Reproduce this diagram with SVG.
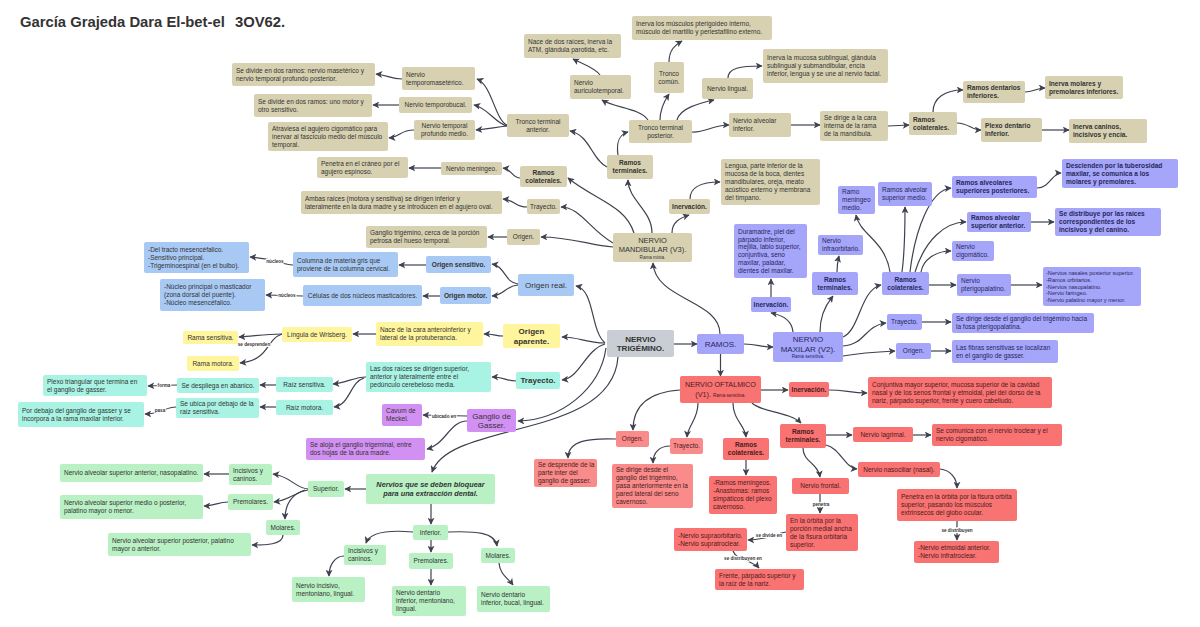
<svg xmlns="http://www.w3.org/2000/svg" width="1200" height="627" viewBox="0 0 1200 627">
<style>
.tan{fill:#d7d1b1}.blu{fill:#a9c9f5}.yel{fill:#fff59d}.cya{fill:#a9f3e5}.pur{fill:#d290f3}.per{fill:#a5a5fa}.red{fill:#f97373}.rdl{fill:#f98b8b}.grn{fill:#b9f0c4}.gry{fill:#c8ced4}
text{font-family:"Liberation Sans",Arial,sans-serif;fill:#333}
.t{font-size:6.5px}.b{font-size:6.6px;font-weight:bold}.s{font-size:5.6px}.m{font-size:8px}.mb{font-size:8px;font-weight:bold}.x{font-size:4.6px}
.c{text-anchor:middle}
.pt{fill:#28285a}.rt{fill:#4a1c1c}
.e{fill:none;stroke:#3d424e;stroke-width:1.2;marker-end:url(#ah)}
.lb{font-size:4.6px;font-weight:bold;fill:#333;stroke:#fff;stroke-width:2;paint-order:stroke;text-anchor:middle}
</style>
<defs>
<marker id="ah" viewBox="0 0 10 10" refX="9" refY="5" markerWidth="7" markerHeight="7" markerUnits="userSpaceOnUse" orient="auto"><path d="M0,0 L10,5 L0,10 L2.5,5 z" fill="#3d424e"/></marker>
</defs>
<rect width="1200" height="627" fill="#fff"/>
<text x="20" y="27" font-size="14.8" font-weight="bold" fill="#111">García Grajeda Dara El-bet-el</text>
<text x="235" y="27" font-size="14.8" font-weight="bold" fill="#111">3OV62.</text>

<g id="connectors">
<path class="e" d="M674,344 L697,344"/>
<path class="e" d="M605,343 C590,330 595,290 576,286"/>
<path class="e" d="M605,343 C585,343 580,337 562,337"/>
<path class="e" d="M605,344 C585,350 580,378 562,380"/>
<path class="e" d="M606,348 C600,390 560,420 518,421"/>
<path class="e" d="M618,357 C612,440 450,420 432,472"/>
<path class="e" d="M720,334 C720,300 655,300 653,263"/>
<path class="e" d="M744,344 C758,344 760,347 773,347"/>
<path class="e" d="M720.5,354 L720.5,376"/>
<path class="e" d="M672,233 C672,222 680,218 689,215"/>
<path class="e" d="M652,233 C652,210 628,200 628,180"/>
<path class="e" d="M634,233 C625,205 595,200 568,178"/>
<path class="e" d="M613,243 C590,230 580,207 561,207"/>
<path class="e" d="M613,247 C590,245 570,237 541,237"/>
<path class="e" d="M690,199 C690,188 700,182 720,182"/>
<path class="e" d="M618,155 C616,142 620,134 628,132"/>
<path class="e" d="M607,167 C592,160 590,135 570,131"/>
<path class="e" d="M648,120 C640,108 615,108 602,100"/>
<path class="e" d="M660,120 C660,108 665,100 669,94"/>
<path class="e" d="M677,120 C680,108 700,103 714,100"/>
<path class="e" d="M692,132 C705,133 712,125 729,125"/>
<path class="e" d="M669,62 C669,50 675,45 682,41"/>
<path class="e" d="M728,78 C728,68 740,66 762,66"/>
<path class="e" d="M600,75 C595,68 585,65 573,59"/>
<path class="e" d="M791,125 L820,125"/>
<path class="e" d="M888,126 L909,125"/>
<path class="e" d="M933,112 C933,98 945,90 963,90"/>
<path class="e" d="M957,123 C968,123 972,130 981,130"/>
<path class="e" d="M1025,92 C1033,92 1037,88 1045,88"/>
<path class="e" d="M1042,130 L1069,130"/>
<path class="e" d="M507,125 C495,120 492,85 477,79"/>
<path class="e" d="M507,126 C495,123 488,108 474,105"/>
<path class="e" d="M507,126 C495,127 490,129 476,130"/>
<path class="e" d="M402,79 C390,79 388,75 376,74"/>
<path class="e" d="M399,105 L373,105"/>
<path class="e" d="M414,130 C400,130 400,137 389,138"/>
<path class="e" d="M520,178 C512,178 512,169 503,168"/>
<path class="e" d="M441,168 L409,168"/>
<path class="e" d="M527,207 C515,207 515,200 503,199"/>
<path class="e" d="M507,237 L488,237"/>
<path class="e" d="M518,284 C505,283 505,266 492,264"/>
<path class="e" d="M518,285 C505,286 505,295 492,296"/>
<path class="e" d="M426,265 L399,265"/>
<path class="e" d="M293,265 C280,264 270,258 250,257"/>
<path class="e" d="M440,296 L423,296"/>
<path class="e" d="M303,296 L266,295"/>
<path class="e" d="M503,336 C495,336 495,334 484,334"/>
<path class="e" d="M376,334 L353,334"/>
<path class="e" d="M282,334 C265,334 255,336 239,337"/>
<path class="e" d="M282,334 C265,340 270,360 240,363"/>
<path class="e" d="M516,381 C505,381 505,377 492,377"/>
<path class="e" d="M366,377 C355,377 345,383 333,384"/>
<path class="e" d="M364,378 C350,382 350,405 334,407"/>
<path class="e" d="M276,385 L260,385"/>
<path class="e" d="M177,385 L148,386"/>
<path class="e" d="M276,407 L260,407"/>
<path class="e" d="M176,407 C165,407 162,414 145,414"/>
<path class="e" d="M467,416 L423,415"/>
<path class="e" d="M467,421 C450,421 445,445 427,449"/>
<path class="e" d="M366,489 L345,489"/>
<path class="e" d="M431,504 L431,524"/>
<path class="e" d="M308,489 C295,488 290,476 273,474"/>
<path class="e" d="M308,490 C295,492 290,500 274,502"/>
<path class="e" d="M305,490 C290,495 285,505 285,519"/>
<path class="e" d="M229,474 L204,474"/>
<path class="e" d="M228,502 C218,502 215,506 204,506"/>
<path class="e" d="M283,535 C283,545 265,545 252,545"/>
<path class="e" d="M413,532 C390,530 370,532 366,543"/>
<path class="e" d="M431,540 L431,552"/>
<path class="e" d="M448,532 C475,531 495,532 497,546"/>
<path class="e" d="M344,556 C335,556 329,565 329,576"/>
<path class="e" d="M431,569 L431,585"/>
<path class="e" d="M499,563 C500,575 508,578 513,585"/>
<path class="e" d="M793,332 C792,320 782,315 771,313"/>
<path class="e" d="M820,332 C820,310 830,300 833,296"/>
<path class="e" d="M843,337 C860,330 860,290 881,285"/>
<path class="e" d="M843,346 C865,345 865,325 886,323"/>
<path class="e" d="M843,356 C860,353 875,352 895,351"/>
<path class="e" d="M771,297 L771,279"/>
<path class="e" d="M837,272 C837,265 838,260 839,256"/>
<path class="e" d="M890,272 C885,240 860,235 856,215"/>
<path class="e" d="M902,272 C905,250 905,225 905,207"/>
<path class="e" d="M910,272 C915,230 930,190 951,188"/>
<path class="e" d="M915,272 C925,240 945,222 966,222"/>
<path class="e" d="M921,272 C923,260 935,251 951,251"/>
<path class="e" d="M929,285 L956,285"/>
<path class="e" d="M1037,188 C1050,188 1052,173 1061,173"/>
<path class="e" d="M1031,222 L1054,222"/>
<path class="e" d="M1011,285 L1042,285"/>
<path class="e" d="M922,322 L951,322"/>
<path class="e" d="M931,351 L951,351"/>
<path class="e" d="M761,390 L788,390"/>
<path class="e" d="M829,390 C845,390 850,393 867,393"/>
<path class="e" d="M680,390 C650,392 633,405 633,430"/>
<path class="e" d="M698,403 C698,420 688,425 687,437"/>
<path class="e" d="M733,403 C733,420 745,425 746,437"/>
<path class="e" d="M752,403 C760,412 790,412 801,423"/>
<path class="e" d="M616,439 C590,438 568,440 568,458"/>
<path class="e" d="M670,446 C660,446 653,452 653,463"/>
<path class="e" d="M746,460 L746,475"/>
<path class="e" d="M826,435 L852,435"/>
<path class="e" d="M826,445 C840,448 845,468 857,469"/>
<path class="e" d="M803,448 C803,462 818,463 820,477"/>
<path class="e" d="M913,435 L931,435"/>
<path class="e" d="M940,469 C950,470 957,478 957,488"/>
<path class="e" d="M957,521 L957,540"/>
<path class="e" d="M820,494 L820,513"/>
<path class="e" d="M786,532 C775,534 765,540 748,540"/>
<path class="e" d="M733,551 C736,560 752,560 759,568"/>
</g>
<g id="connector-labels">
<text class="lb" x="275" y="263">núcleos</text>
<text class="lb" x="287" y="297">núcleos</text>
<text class="lb" x="254" y="346">se desprenden</text>
<text class="lb" x="164" y="387">forma</text>
<text class="lb" x="160" y="412">pasa</text>
<text class="lb" x="444" y="418">ubicado en</text>
<text class="lb" x="957" y="532">se distribuyen</text>
<text class="lb" x="821" y="506">penetra</text>
<text class="lb" x="769" y="537">se divide en</text>
<text class="lb" x="743" y="560">se distribuyen en</text>
</g>

<g id="n_se_divide_maset"><rect class="tan" x="232" y="63" width="143" height="23" rx="2"/><text class="t" x="236" y="72.8">Se divide en dos ramos: nervio masetérico y<tspan x="236" dy="8">nervio temporal profundo posterior.</tspan></text></g>
<g id="n_temporomaset"><rect class="tan" x="402" y="67" width="73" height="23" rx="2"/><text class="t" x="406" y="76.8">Nervio<tspan x="406" dy="8">temporomasetérico.</tspan></text></g>
<g id="n_se_divide_motor"><rect class="tan" x="254" y="94" width="118" height="23" rx="2"/><text class="t" x="258" y="103.8">Se divide en dos ramos: uno motor y<tspan x="258" dy="8">otro sensitivo.</tspan></text></g>
<g id="n_temporobucal"><rect class="tan" x="399" y="97" width="73" height="16" rx="2"/><text class="t c" x="435.5" y="107.3">Nervio temporobucal.</text></g>
<g id="n_atraviesa"><rect class="tan" x="268" y="122" width="120" height="29" rx="2"/><text class="t" x="272" y="130.8">Atraviesa el agujero cigomático para<tspan x="272" dy="8">inervar al fascículo medio del músculo</tspan><tspan x="272" dy="8">temporal.</tspan></text></g>
<g id="n_temp_prof_medio"><rect class="tan" x="414" y="120" width="61" height="20" rx="2"/><text class="t c" x="444.5" y="128.3">Nervio temporal<tspan x="444.5" dy="8">profundo medio.</tspan></text></g>
<g id="n_tronco_ant"><rect class="tan" x="507" y="114" width="62" height="23" rx="2"/><text class="t c" x="538" y="123.8">Tronco terminal<tspan x="538" dy="8">anterior.</tspan></text></g>
<g id="n_nace_dos"><rect class="tan" x="524" y="34" width="97" height="24" rx="2"/><text class="t" x="528" y="44.3">Nace de dos raíces, inerva la<tspan x="528" dy="8">ATM, glándula parotida, etc.</tspan></text></g>
<g id="n_auriculo"><rect class="tan" x="570" y="75" width="61" height="24" rx="2"/><text class="t" x="574" y="85.3">Nervio<tspan x="574" dy="8">auriculotemporal.</tspan></text></g>
<g id="n_inerva_pterig"><rect class="tan" x="632" y="16" width="140" height="24" rx="2"/><text class="t" x="636" y="26.3">Inerva los músculos pterigoideo interno,<tspan x="636" dy="8">músculo del martillo y periestafilino externo.</tspan></text></g>
<g id="n_tronco_comun"><rect class="tan" x="654" y="62" width="30" height="31" rx="2"/><text class="t c" x="669" y="75.8">Tronco<tspan x="669" dy="8">común.</tspan></text></g>
<g id="n_lingual"><rect class="tan" x="702" y="78" width="51" height="21" rx="2"/><text class="t c" x="727.5" y="90.8">Nervio lingual.</text></g>
<g id="n_inerva_mucosa"><rect class="tan" x="763" y="49" width="125" height="34" rx="2"/><text class="t" x="767" y="60.3">Inerva la mucosa sublingual, glándula<tspan x="767" dy="8">sublingual y submandibular, encía</tspan><tspan x="767" dy="8">inferior, lengua y se une al nervio facial.</tspan></text></g>
<g id="n_tronco_post"><rect class="tan" x="629" y="120" width="63" height="23" rx="2"/><text class="t c" x="660.5" y="129.8">Tronco terminal<tspan x="660.5" dy="8">posterior.</tspan></text></g>
<g id="n_alveolar_inf"><rect class="tan" x="729" y="113" width="62" height="24" rx="2"/><text class="t" x="733" y="123.3">Nervio alveolar<tspan x="733" dy="8">inferior.</tspan></text></g>
<g id="n_se_dirige_cara"><rect class="tan" x="820" y="111" width="68" height="30" rx="2"/><text class="t" x="824" y="120.3">Se dirige a la cara<tspan x="824" dy="8">interna de la rama</tspan><tspan x="824" dy="8">de la mandíbula.</tspan></text></g>
<g id="n_ramos_col_m2"><rect class="tan" x="909" y="112" width="48" height="23" rx="2"/><text class="b" x="913" y="121.8">Ramos<tspan x="913" dy="8">colaterales.</tspan></text></g>
<g id="n_dentarios_inf"><rect class="tan" x="963" y="81" width="62" height="22" rx="2"/><text class="b" x="967" y="90.3">Ramos dentarios<tspan x="967" dy="8">inferiores.</tspan></text></g>
<g id="n_inerva_molares"><rect class="tan" x="1045" y="76" width="78" height="23" rx="2"/><text class="b" x="1049" y="85.8">Inerva molares y<tspan x="1049" dy="8">premolares inferiores.</tspan></text></g>
<g id="n_plexo_dent"><rect class="tan" x="981" y="118" width="61" height="24" rx="2"/><text class="b" x="985" y="128.3">Plexo dentario<tspan x="985" dy="8">inferior.</tspan></text></g>
<g id="n_inerva_caninos"><rect class="tan" x="1069" y="119" width="78" height="24" rx="2"/><text class="b" x="1073" y="129.3">Inerva caninos,<tspan x="1073" dy="8">incisivos y encía.</tspan></text></g>
<g id="n_ramos_term_m"><rect class="tan" x="607" y="155" width="46" height="24" rx="2"/><text class="b c" x="630" y="165.3">Ramos<tspan x="630" dy="8">terminales.</tspan></text></g>
<g id="n_inervacion_m"><rect class="tan" x="669" y="199" width="41" height="15" rx="2"/><text class="b c" x="689.5" y="208.8">Inervación.</text></g>
<g id="n_lengua"><rect class="tan" x="721" y="159" width="99" height="46" rx="2"/><text class="t" x="725" y="168.3">Lengua, parte inferior de la<tspan x="725" dy="8">mucosa de la boca, dientes</tspan><tspan x="725" dy="8">mandibulares, oreja, meato</tspan><tspan x="725" dy="8">acústico externo y membrana</tspan><tspan x="725" dy="8">del tímpano.</tspan></text></g>
<g id="n_meningeo"><rect class="tan" x="441" y="162" width="61" height="13" rx="2"/><text class="t c" x="471.5" y="170.8">Nervio meningeo.</text></g>
<g id="n_penetra_craneo"><rect class="tan" x="317" y="157" width="91" height="21" rx="2"/><text class="t" x="321" y="165.8">Penetra en el cráneo por el<tspan x="321" dy="8">agujero espinoso.</tspan></text></g>
<g id="n_ramos_col_m"><rect class="tan" x="520" y="166" width="47" height="21" rx="2"/><text class="b c" x="543.5" y="174.8">Ramos<tspan x="543.5" dy="8">colaterales.</tspan></text></g>
<g id="n_trayecto_m"><rect class="tan" x="527" y="199" width="33" height="15" rx="2"/><text class="t c" x="543.5" y="208.8">Trayecto.</text></g>
<g id="n_ambas"><rect class="tan" x="301" y="191" width="201" height="23" rx="2"/><text class="t" x="305" y="200.8">Ambas raíces (motora y sensitiva) se dirigen inferior y<tspan x="305" dy="8">lateralmente en la dura madre y se introducen en el agujero oval.</tspan></text></g>
<g id="n_origen_m"><rect class="tan" x="507" y="229" width="33" height="16" rx="2"/><text class="t c" x="523.5" y="239.3">Origen.</text></g>
<g id="n_ganglio_trig"><rect class="tan" x="366" y="226" width="121" height="22" rx="2"/><text class="t" x="370" y="235.3">Ganglio trigémino, cerca de la porción<tspan x="370" dy="8">petrosa del hueso temporal.</tspan></text></g>
<g id="n_mandibular"><rect class="tan" x="613" y="233" width="79" height="29" rx="2"/><text class="c" x="652.5" y="242.7" font-size="7.5">NERVIO<tspan x="652.5" dy="9">MANDIBULAR (V3).</tspan></text><text class="x c" x="652.5" y="258.6">Rama mixta.</text></g>

<g id="n_origen_real"><rect class="blu" x="518" y="274" width="56" height="22" rx="2"/><text class="m c" x="546" y="287.8">Origen real.</text></g>
<g id="n_origen_sens"><rect class="blu" x="426" y="256" width="65" height="17" rx="2"/><text class="b c" x="458.5" y="266.8">Origen sensitivo.</text></g>
<g id="n_columna"><rect class="blu" x="293" y="252" width="105" height="25" rx="2"/><text class="t" x="297" y="262.8">Columna de materia gris que<tspan x="297" dy="8">proviene de la columna cervical.</tspan></text></g>
<g id="n_del_tracto"><rect class="blu" x="144" y="242" width="105" height="31" rx="2"/><text class="t" x="148" y="251.8">-Del tracto mesencéfalico.<tspan x="148" dy="8">-Sensitivo principal.</tspan><tspan x="148" dy="8">-Trigeminoespinal (en el bulbo).</tspan></text></g>
<g id="n_origen_motor"><rect class="blu" x="440" y="287" width="51" height="17" rx="2"/><text class="b c" x="465.5" y="297.8">Origen motor.</text></g>
<g id="n_celulas"><rect class="blu" x="303" y="285" width="119" height="21" rx="2"/><text class="t c" x="362.5" y="297.8">Células de dos núcleos masticadores.</text></g>
<g id="n_nucleo_princ"><rect class="blu" x="160" y="279" width="105" height="32" rx="2"/><text class="t" x="164" y="289.3">-Núcleo principal o masticador<tspan x="164" dy="8">(zona dorsal del puente).</tspan><tspan x="164" dy="8">-Núcleo mesencéfalico.</tspan></text></g>

<g id="n_origen_ap"><rect class="yel" x="503" y="324" width="57" height="24" rx="2"/><text class="mb c" x="531.5" y="334.1">Origen<tspan x="531.5" dy="9.5">aparente.</tspan></text></g>
<g id="n_nace_cara"><rect class="yel" x="376" y="322" width="107" height="24" rx="2"/><text class="t" x="380" y="332.3">Nace de la cara anteroinferior y<tspan x="380" dy="8">lateral de la protuberancia.</tspan></text></g>
<g id="n_lingula"><rect class="yel" x="282" y="327" width="70" height="15" rx="2"/><text class="t c" x="317" y="336.8">Língula de Wrisberg.</text></g>
<g id="n_rama_sens"><rect class="yel" x="183" y="331" width="55" height="13" rx="2"/><text class="t c" x="210.5" y="339.8">Rama sensitiva.</text></g>
<g id="n_rama_motora"><rect class="yel" x="187" y="356" width="52" height="15" rx="2"/><text class="t c" x="213" y="365.8">Rama motora.</text></g>

<g id="n_trayecto_c"><rect class="cya" x="516" y="372" width="44" height="17" rx="2"/><text class="mb c" x="538" y="383.3">Trayecto.</text></g>
<g id="n_las_dos"><rect class="cya" x="366" y="362" width="125" height="30" rx="2"/><text class="t" x="370" y="371.3">Las dos raíces se dirigen superior,<tspan x="370" dy="8">anterior y lateralmente entre el</tspan><tspan x="370" dy="8">pedúnculo cerebeloso media.</tspan></text></g>
<g id="n_raiz_sens"><rect class="cya" x="276" y="377" width="57" height="15" rx="2"/><text class="t c" x="304.5" y="386.8">Raíz sensitiva.</text></g>
<g id="n_raiz_motora"><rect class="cya" x="276" y="400" width="57" height="15" rx="2"/><text class="t c" x="304.5" y="409.8">Raíz motora.</text></g>
<g id="n_despliega"><rect class="cya" x="177" y="378" width="82" height="15" rx="2"/><text class="t c" x="218" y="387.8">Se despliega en abanico.</text></g>
<g id="n_plexo_tri"><rect class="cya" x="43" y="375" width="104" height="21" rx="2"/><text class="t" x="47" y="383.8">Plexo triangular que termina en<tspan x="47" dy="8">el ganglio de gasser.</tspan></text></g>
<g id="n_se_ubica"><rect class="cya" x="176" y="398" width="83" height="20" rx="2"/><text class="t" x="180" y="406.3">Se ubica por debajo de la<tspan x="180" dy="8">raíz sensitiva.</tspan></text></g>
<g id="n_por_debajo"><rect class="cya" x="18" y="402" width="126" height="25" rx="2"/><text class="t" x="22" y="412.8">Por debajo del ganglio de gasser y se<tspan x="22" dy="8">incorpora a la rama maxilar inferior.</tspan></text></g>

<g id="n_ganglio_g"><rect class="pur" x="467" y="409" width="49" height="23" rx="2"/><text class="m c" x="491.5" y="418.6">Ganglio de<tspan x="491.5" dy="9.5">Gasser.</tspan></text></g>
<g id="n_cavum"><rect class="pur" x="382" y="404" width="40" height="22" rx="2"/><text class="t" x="386" y="413.3">Cavum de<tspan x="386" dy="8">Meckel.</tspan></text></g>
<g id="n_se_aloja"><rect class="pur" x="306" y="438" width="119" height="22" rx="2"/><text class="t" x="310" y="447.3">Se aloja el ganglio trigeminal, entre<tspan x="310" dy="8">dos hojas de la dura madre.</tspan></text></g>

<g id="n_trigemino"><rect class="gry" x="607" y="330" width="67" height="27" rx="2"/><text class="mb c" x="640.5" y="341.6">NERVIO<tspan x="640.5" dy="9.5">TRIGÉMINO.</tspan></text></g>

<g id="n_ramos"><rect class="per" x="697" y="334" width="47" height="20" rx="2"/><text class="m c pt" x="720.5" y="346.8">RAMOS.</text></g>
<g id="n_maxilar"><rect class="per" x="773" y="332" width="70" height="30" rx="2"/><text class="m c pt" x="808" y="341.8">NERVIO<tspan x="808" dy="9.7">MAXILAR (V2).</tspan></text><text class="x c pt" x="808" y="358.3">Rama sensitiva.</text></g>
<g id="n_inervacion_x"><rect class="per" x="751" y="297" width="40" height="15" rx="2"/><text class="b c pt" x="771" y="306.8">Inervación.</text></g>
<g id="n_duramadre"><rect class="per" x="734" y="224" width="73" height="54" rx="2"/><text class="t pt" x="738" y="233.8">Duramadre, piel del<tspan x="738" dy="7.8">párpado inferior,</tspan><tspan x="738" dy="7.8">mejilla, labio superior,</tspan><tspan x="738" dy="7.8">conjuntiva, seno</tspan><tspan x="738" dy="7.8">maxilar, paladar,</tspan><tspan x="738" dy="7.8">dientes del maxilar.</tspan></text></g>
<g id="n_ramos_term_x"><rect class="per" x="812" y="272" width="46" height="23" rx="2"/><text class="b c pt" x="835" y="281.8">Ramos<tspan x="835" dy="8">terminales.</tspan></text></g>
<g id="n_infraorb"><rect class="per" x="818" y="235" width="45" height="20" rx="2"/><text class="t pt" x="822" y="243.3">Nervio<tspan x="822" dy="8">infraorbitario.</tspan></text></g>
<g id="n_ramo_mening"><rect class="per" x="838" y="186" width="37" height="28" rx="2"/><text class="t pt" x="842" y="194.3">Ramo<tspan x="842" dy="8">meningeo</tspan><tspan x="842" dy="8">medio.</tspan></text></g>
<g id="n_alv_sup_medio"><rect class="per" x="878" y="182" width="54" height="24" rx="2"/><text class="t pt" x="882" y="192.3">Ramos alveolar<tspan x="882" dy="8">superior medio.</tspan></text></g>
<g id="n_alv_sup_post"><rect class="per" x="952" y="176" width="85" height="22" rx="2"/><text class="b pt" x="956" y="185.3">Ramos alveolares<tspan x="956" dy="8">superiores posteriores.</tspan></text></g>
<g id="n_descienden"><rect class="per" x="1062" y="159" width="116" height="29" rx="2"/><text class="b pt" x="1066" y="167.8">Descienden por la tuberosidad<tspan x="1066" dy="8">maxilar, se comunica a los</tspan><tspan x="1066" dy="8">molares y premolares.</tspan></text></g>
<g id="n_alv_sup_ant"><rect class="per" x="967" y="212" width="64" height="20" rx="2"/><text class="b pt" x="971" y="220.3">Ramos alveolar<tspan x="971" dy="8">superior anterior.</tspan></text></g>
<g id="n_se_distribuye"><rect class="per" x="1055" y="208" width="106" height="28" rx="2"/><text class="b pt" x="1059" y="216.3">Se distribuye por las raíces<tspan x="1059" dy="8">correspondientes de los</tspan><tspan x="1059" dy="8">incisivos y del canino.</tspan></text></g>
<g id="n_cigomatico"><rect class="per" x="952" y="241" width="42" height="20" rx="2"/><text class="t pt" x="956" y="249.3">Nervio<tspan x="956" dy="8">cigomático.</tspan></text></g>
<g id="n_ramos_col_x"><rect class="per" x="882" y="272" width="47" height="23" rx="2"/><text class="b c pt" x="905.5" y="281.8">Ramos<tspan x="905.5" dy="8">colaterales.</tspan></text></g>
<g id="n_pterigo"><rect class="per" x="957" y="274" width="54" height="22" rx="2"/><text class="t pt" x="961" y="283.3">Nervio<tspan x="961" dy="8">pterigopalatino.</tspan></text></g>
<g id="n_nasales"><rect class="per" x="1043" y="267" width="98" height="39" rx="2"/><text class="s pt" x="1046" y="274.9">-Nervios nasales posterior superior.<tspan x="1046" dy="6.8">-Ramos orbitarios.</tspan><tspan x="1046" dy="6.8">-Nervios nasopalatino.</tspan><tspan x="1046" dy="6.8">-Nervio faringeo.</tspan><tspan x="1046" dy="6.8">-Nervio palatino mayor y menor.</tspan></text></g>
<g id="n_trayecto_x"><rect class="per" x="887" y="314" width="35" height="16" rx="2"/><text class="t c pt" x="904.5" y="324.3">Trayecto.</text></g>
<g id="n_se_dirige_fosa"><rect class="per" x="952" y="313" width="142" height="20" rx="2"/><text class="t pt" x="956" y="321.3">Se dirige desde el ganglio del trigémino hacia<tspan x="956" dy="8">la fosa pterigopalatina.</tspan></text></g>
<g id="n_origen_x"><rect class="per" x="896" y="343" width="35" height="16" rx="2"/><text class="t c pt" x="913.5" y="353.3">Origen.</text></g>
<g id="n_fibras"><rect class="per" x="952" y="340" width="106" height="23" rx="2"/><text class="t pt" x="956" y="349.8">Las fibras sensitivas se localizan<tspan x="956" dy="8">en el ganglio de gasser.</tspan></text></g>

<g id="n_oftalmico"><rect class="red" x="680" y="376" width="81" height="27" rx="2"/><text class="c rt" x="720.5" y="387" font-size="7.2">NERVIO OFTALMICO</text><text class="c rt" x="720.5" y="396.5" font-size="7.2">(V1). <tspan font-size="4.6">Rama sensitiva.</tspan></text></g>
<g id="n_inervacion_o"><rect class="red" x="789" y="382" width="40" height="15" rx="2"/><text class="b c rt" x="809" y="391.8">Inervación.</text></g>
<g id="n_conjuntiva"><rect class="red" x="868" y="377" width="184" height="31" rx="2"/><text class="t rt" x="872" y="386.8">Conjuntiva mayor superior, mucosa superior de la cavidad<tspan x="872" dy="8">nasal y de los senos frontal y etmoidal, piel del dorso de la</tspan><tspan x="872" dy="8">nariz, párpado superior, frente y cuero cabelludo.</tspan></text></g>
<g id="n_origen_o"><rect class="rdl" x="616" y="431" width="33" height="16" rx="2"/><text class="t c rt" x="632.5" y="441.3">Origen.</text></g>
<g id="n_se_desprende"><rect class="rdl" x="534" y="459" width="63" height="28" rx="2"/><text class="t rt" x="538" y="467.3">Se desprende de la<tspan x="538" dy="8">parte inter del</tspan><tspan x="538" dy="8">ganglio de gasser.</tspan></text></g>
<g id="n_trayecto_o"><rect class="rdl" x="670" y="438" width="33" height="16" rx="2"/><text class="t c rt" x="686.5" y="448.3">Trayecto.</text></g>
<g id="n_se_dirige_seno"><rect class="rdl" x="612" y="464" width="81" height="44" rx="2"/><text class="t rt" x="616" y="472.3">Se dirige desde el<tspan x="616" dy="8">ganglio del trigémino,</tspan><tspan x="616" dy="8">pasa anteriormente en la</tspan><tspan x="616" dy="8">pared lateral del seno</tspan><tspan x="616" dy="8">cavernoso.</tspan></text></g>
<g id="n_ramos_col_o"><rect class="red" x="723" y="438" width="46" height="22" rx="2"/><text class="b c rt" x="746" y="447.3">Ramos<tspan x="746" dy="8">colaterales.</tspan></text></g>
<g id="n_ramos_mening"><rect class="red" x="709" y="476" width="68" height="38" rx="2"/><text class="t rt" x="713" y="485.3">-Ramos meningeos.<tspan x="713" dy="8">-Anastomas: ramos</tspan><tspan x="713" dy="8">simpáticos del plexo</tspan><tspan x="713" dy="8">cavernoso.</tspan></text></g>
<g id="n_ramos_term_o"><rect class="red" x="780" y="424" width="46" height="24" rx="2"/><text class="b c rt" x="803" y="434.3">Ramos<tspan x="803" dy="8">terminales.</tspan></text></g>
<g id="n_lagrimal"><rect class="red" x="853" y="427" width="60" height="15" rx="2"/><text class="t c rt" x="883" y="436.8">Nervio lagrimal.</text></g>
<g id="n_comunica"><rect class="red" x="932" y="424" width="130" height="22" rx="2"/><text class="t rt" x="936" y="433.3">Se comunica con el nervio troclear y el<tspan x="936" dy="8">nervio cigomático.</tspan></text></g>
<g id="n_nasociliar"><rect class="red" x="858" y="462" width="82" height="15" rx="2"/><text class="t c rt" x="899" y="471.8">Nervio nasociliar (nasal).</text></g>
<g id="n_penetra_orb"><rect class="red" x="897" y="489" width="120" height="32" rx="2"/><text class="t rt" x="901" y="499.3">Penetra en la órbita por la fisura orbita<tspan x="901" dy="8">superior, pasando los músculos</tspan><tspan x="901" dy="8">extrinsecos del globo ocular.</tspan></text></g>
<g id="n_etmoidal"><rect class="red" x="914" y="541" width="85" height="22" rx="2"/><text class="t rt" x="918" y="550.3">-Nervio etmoidal anterior.<tspan x="918" dy="8">-Nervio infratroclear.</tspan></text></g>
<g id="n_frontal"><rect class="red" x="792" y="478" width="57" height="16" rx="2"/><text class="t c rt" x="820.5" y="488.3">Nervio frontal.</text></g>
<g id="n_en_orbita"><rect class="red" x="786" y="514" width="72" height="37" rx="2"/><text class="t rt" x="790" y="522.8">En la órbita por la<tspan x="790" dy="8">porción medial ancha</tspan><tspan x="790" dy="8">de la fisura orbitaria</tspan><tspan x="790" dy="8">superior.</tspan></text></g>
<g id="n_supra"><rect class="red" x="674" y="528" width="73" height="23" rx="2"/><text class="t rt" x="678" y="537.8">-Nervio supraorbitario.<tspan x="678" dy="8">-Nervio supratroclear.</tspan></text></g>
<g id="n_frente"><rect class="red" x="715" y="569" width="89" height="21" rx="2"/><text class="t rt" x="719" y="577.8">Frente, párpado superior y<tspan x="719" dy="8">la raíz de la nariz.</tspan></text></g>

<g id="n_nervios_bloq"><rect class="grn" x="366" y="474" width="129" height="30" rx="2"/><text class="c" x="430.5" y="487.1" font-size="7.3" font-weight="bold" font-style="italic">Nervios que se deben bloquear<tspan x="430.5" dy="9">para una extracción dental.</tspan></text></g>
<g id="n_superior"><rect class="grn" x="308" y="481" width="36" height="16" rx="2"/><text class="t c" x="326" y="491.3">Superior.</text></g>
<g id="n_inc_can_s"><rect class="grn" x="229" y="464" width="43" height="21" rx="2"/><text class="t" x="233" y="472.8">Incisivos y<tspan x="233" dy="8">caninos.</tspan></text></g>
<g id="n_nasopal"><rect class="grn" x="60" y="464" width="143" height="18" rx="2"/><text class="t" x="64" y="475.3">Nervio alveolar superior anterior, nasopalatino.</text></g>
<g id="n_premol_s"><rect class="grn" x="228" y="494" width="45" height="16" rx="2"/><text class="t c" x="250.5" y="504.3">Premolares.</text></g>
<g id="n_alv_medio_post"><rect class="grn" x="60" y="495" width="143" height="24" rx="2"/><text class="t" x="64" y="505.3">Nervio alveolar superior medio o posterior,<tspan x="64" dy="8">palatino mayor o menor.</tspan></text></g>
<g id="n_molares_s"><rect class="grn" x="266" y="520" width="34" height="15" rx="2"/><text class="t c" x="283" y="529.8">Molares.</text></g>
<g id="n_alv_post_pal"><rect class="grn" x="108" y="533" width="143" height="23" rx="2"/><text class="t" x="112" y="542.8">Nervio alveolar superior posterior, palatino<tspan x="112" dy="8">mayor o anterior.</tspan></text></g>
<g id="n_inferior"><rect class="grn" x="413" y="525" width="35" height="15" rx="2"/><text class="t c" x="430.5" y="534.8">Inferior.</text></g>
<g id="n_inc_can_i"><rect class="grn" x="344" y="545" width="42" height="20" rx="2"/><text class="t" x="348" y="553.3">Incisivos y<tspan x="348" dy="8">caninos.</tspan></text></g>
<g id="n_premol_i"><rect class="grn" x="409" y="553" width="44" height="16" rx="2"/><text class="t c" x="431" y="563.3">Premolares.</text></g>
<g id="n_molares_i"><rect class="grn" x="481" y="548" width="34" height="15" rx="2"/><text class="t c" x="498" y="557.8">Molares.</text></g>
<g id="n_incisivo_ment"><rect class="grn" x="292" y="577" width="73" height="25" rx="2"/><text class="t" x="296" y="587.8">Nervio incisivo,<tspan x="296" dy="8">mentoniano, lingual.</tspan></text></g>
<g id="n_dent_ment"><rect class="grn" x="392" y="586" width="74" height="30" rx="2"/><text class="t" x="396" y="595.3">Nervio dentario<tspan x="396" dy="8">inferior, mentoniano,</tspan><tspan x="396" dy="8">lingual.</tspan></text></g>
<g id="n_dent_bucal"><rect class="grn" x="477" y="586" width="73" height="26" rx="2"/><text class="t" x="481" y="597.3">Nervio dentario<tspan x="481" dy="8">inferior, bucal, lingual.</tspan></text></g>
</svg>
